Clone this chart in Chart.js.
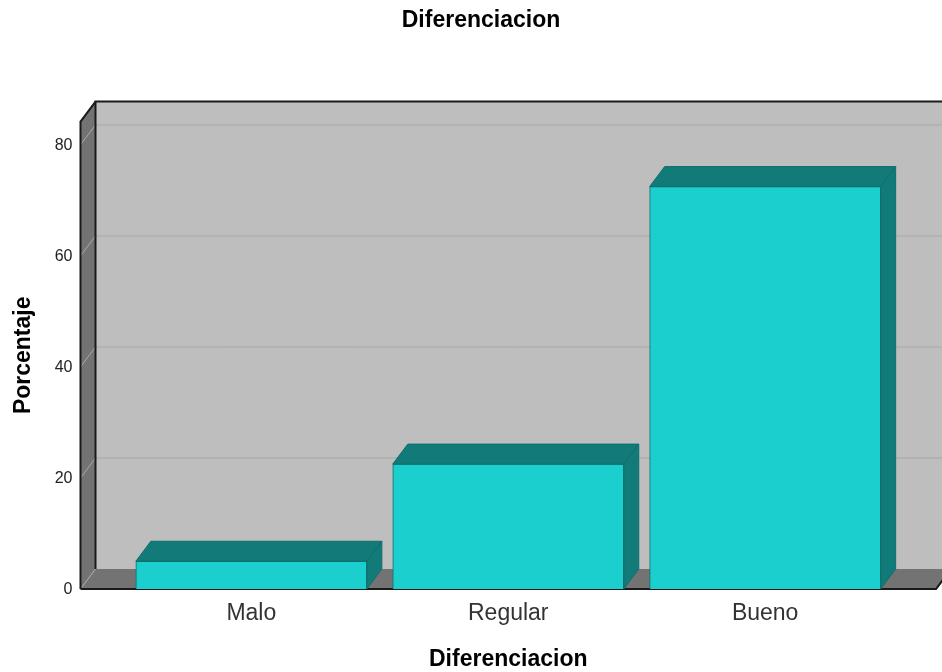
<!DOCTYPE html>
<html>
<head>
<meta charset="utf-8">
<title>Diferenciacion</title>
<script src="https://cdn.jsdelivr.net/npm/chart.js@4/dist/chart.umd.min.js"></script>
<style>
  html, body { margin: 0; padding: 0; background: #fff; }
  canvas { display: block; }
</style>
</head>
<body>
<canvas id="barChart" width="942" height="672"></canvas>
<script>
const categories = ["Malo", "Regular", "Bueno"];
const porcentaje = [5, 22.5, 72.5];
const yTicks = [0, 20, 40, 60, 80];

const DEPTH_X = 15;
const DEPTH_Y = 20;

const WALL_BACK = "#bebebe";
const WALL_SIDE = "#737373";
const GRID = "#a9a9a9";
const EDGE = "#1a1a1a";
const BAR_FRONT = "#1ccfcf";
const BAR_SHADE = "#127a78";
const BAR_EDGE = "#0f6f6d";
const TEXT = "#222222";

function polygon(ctx, points, fill, stroke) {
  ctx.beginPath();
  points.forEach(([x, y], i) => (i ? ctx.lineTo(x, y) : ctx.moveTo(x, y)));
  ctx.closePath();
  ctx.fillStyle = fill;
  ctx.fill();
  if (stroke) {
    ctx.strokeStyle = stroke;
    ctx.lineWidth = 1;
    ctx.stroke();
  }
}

function line(ctx, points, color, width) {
  ctx.beginPath();
  points.forEach(([x, y], i) => (i ? ctx.lineTo(x, y) : ctx.moveTo(x, y)));
  ctx.strokeStyle = color;
  ctx.lineWidth = width;
  ctx.stroke();
}

// back wall, left wall, floor and grid, behind the bars
const roomPlugin = {
  id: "room",
  beforeDatasetsDraw(chart) {
    const { ctx, chartArea: a, scales } = chart;
    const bx = a.left + DEPTH_X;
    const rx = a.right + DEPTH_X;
    const ty = a.top - DEPTH_Y;
    const by = a.bottom - DEPTH_Y;
    ctx.save();
    polygon(ctx, [[bx, ty], [rx, ty], [rx, by], [bx, by]], WALL_BACK);
    polygon(ctx, [[a.left, a.top], [bx, ty], [bx, by], [a.left, a.bottom]], WALL_SIDE);
    polygon(ctx, [[a.left, a.bottom], [bx, by], [rx, by], [a.right, a.bottom]], WALL_SIDE);
    yTicks.slice(1).forEach((v) => {
      const y = scales.y.getPixelForValue(v);
      line(ctx, [[a.left, y], [bx, y - DEPTH_Y], [rx, y - DEPTH_Y]], GRID, 1);
    });
    line(ctx, [[a.left, a.bottom], [bx, by]], GRID, 1);
    line(ctx, [[bx, by], [bx, ty], [rx, ty]], EDGE, 2);
    line(ctx, [[a.left, a.bottom], [a.left, a.top], [bx, ty]], EDGE, 2);
    line(ctx, [[a.left, a.bottom], [a.right, a.bottom], [rx, by]], EDGE, 2);
    ctx.restore();
  },
  // top and right faces of each bar
  afterDatasetsDraw(chart) {
    const { ctx, chartArea: a } = chart;
    ctx.save();
    chart.getDatasetMeta(0).data.forEach((bar) => {
      const l = bar.x - bar.width / 2;
      const r = bar.x + bar.width / 2;
      const t = bar.y;
      const b = a.bottom;
      polygon(ctx, [[l, t], [l + DEPTH_X, t - DEPTH_Y], [r + DEPTH_X, t - DEPTH_Y], [r, t]], BAR_SHADE, BAR_EDGE);
      polygon(ctx, [[r, t], [r + DEPTH_X, t - DEPTH_Y], [r + DEPTH_X, b - DEPTH_Y], [r, b]], BAR_SHADE, BAR_EDGE);
    });
    ctx.restore();
  },
};

// the heading sits a little right of the canvas middle
const titleShiftPlugin = {
  id: "titleShift",
  afterLayout(chart) {
    chart.titleBlock.left += 13;
    chart.titleBlock.right += 13;
  },
};

new Chart(document.getElementById("barChart"), {
  type: "bar",
  data: {
    datasets: [
      {
        data: porcentaje.map((v, i) => ({ x: i, y: v })),
        backgroundColor: BAR_FRONT,
        borderColor: BAR_EDGE,
        borderWidth: 1,
        barThickness: 231,
      },
    ],
  },
  options: {
    responsive: false,
    animation: false,
    layout: { padding: { right: 6 } },
    plugins: {
      legend: { display: false },
      tooltip: { enabled: false },
      title: {
        display: true,
        text: "Diferenciacion",
        color: "#000",
        font: { family: "Liberation Sans", size: 23, weight: "bold" },
        padding: { top: 7, bottom: 87 },
      },
    },
    scales: {
      x: {
        type: "linear",
        offset: false,
        min: -0.665,
        max: 2.665,
        grid: { display: false },
        border: { display: false },
        afterBuildTicks: (scale) => {
          scale.ticks = categories.map((_, i) => ({ value: i }));
        },
        afterFit: (scale) => {
          scale.height = 83;
        },
        ticks: {
          callback: (value) => categories[value],
          color: "#333",
          padding: 3,
          maxRotation: 0,
          font: { family: "Liberation Sans", size: 23 },
        },
        title: {
          display: true,
          text: "Diferenciacion",
          color: "#000",
          font: { family: "Liberation Sans", size: 23, weight: "bold" },
          padding: { top: 14, bottom: -1 },
        },
      },
      y: {
        min: 0,
        max: 84.2,
        grid: { display: false },
        border: { display: false },
        afterBuildTicks: (scale) => {
          scale.ticks = yTicks.map((v) => ({ value: v }));
        },
        afterFit: (scale) => {
          scale.width = 80.5;
        },
        ticks: {
          color: TEXT,
          padding: 0,
          labelOffset: 1,
          font: { family: "Liberation Sans", size: 16 },
        },
        title: {
          display: true,
          text: "Porcentaje",
          color: "#000",
          font: { family: "Liberation Sans", size: 23, weight: "bold" },
          padding: { top: 10, bottom: 0 },
        },
      },
    },
  },
  plugins: [roomPlugin, titleShiftPlugin],
});
</script>
</body>
</html>
